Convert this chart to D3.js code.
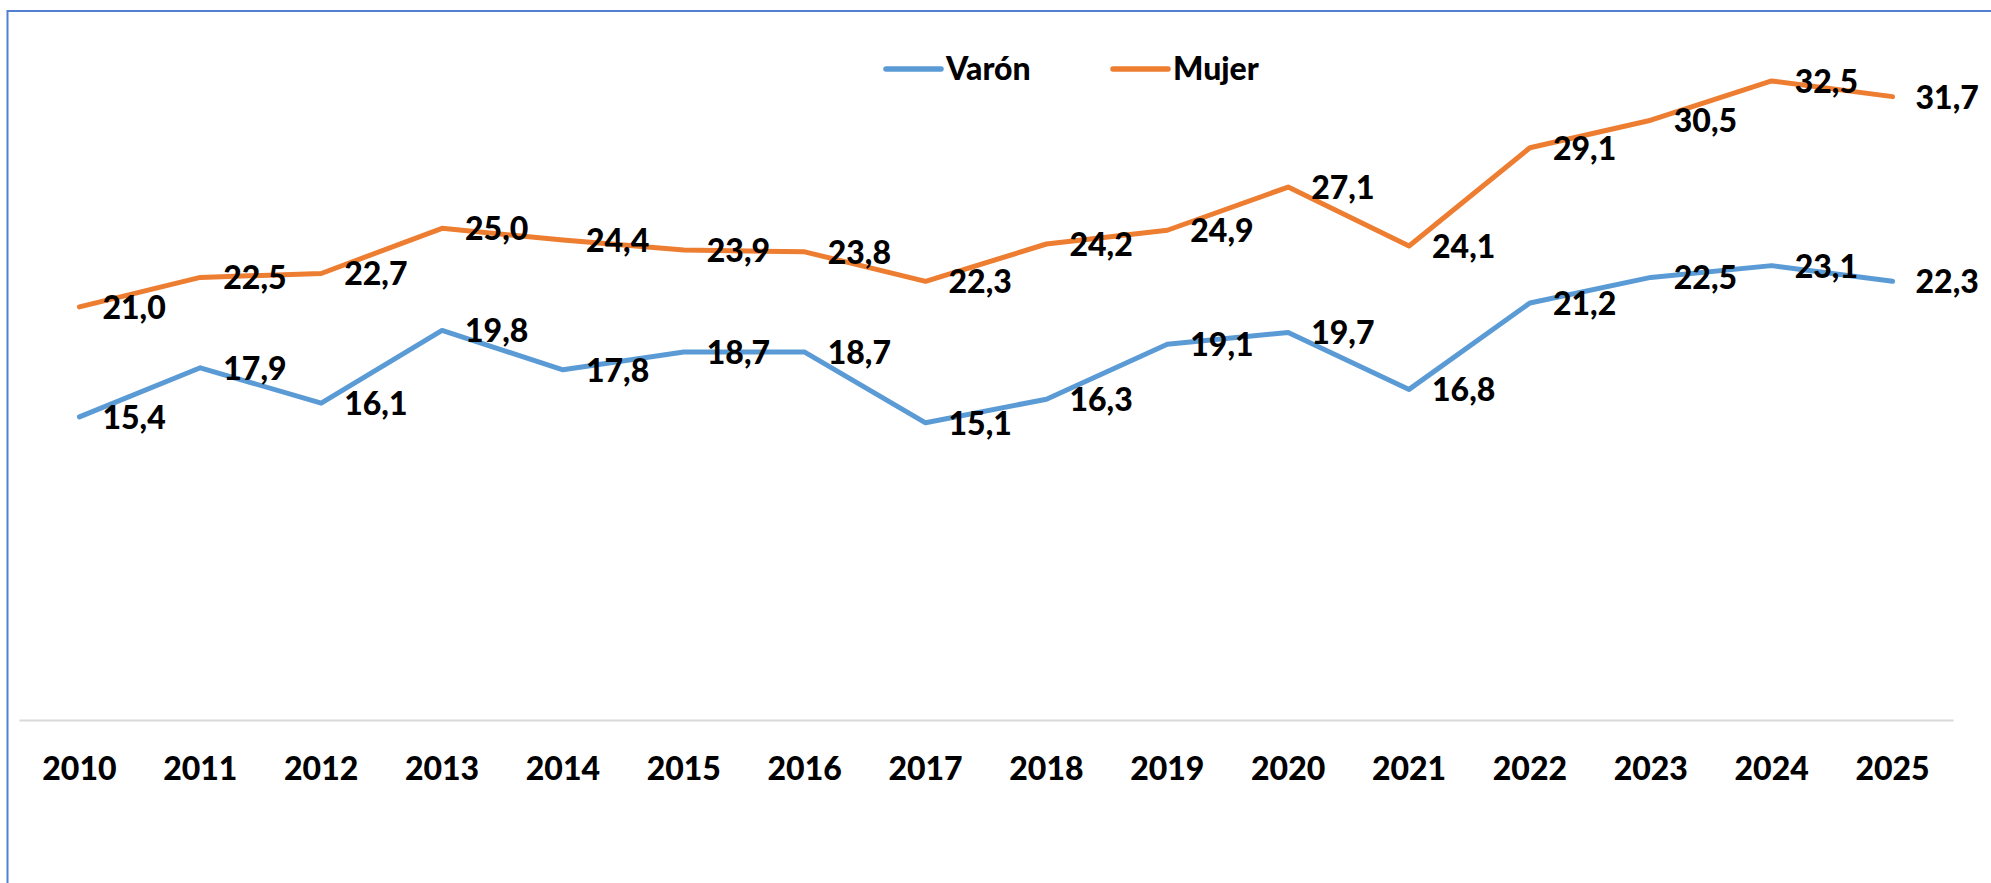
<!DOCTYPE html>
<html>
<head>
  <meta charset="utf-8">
  <title>Varón / Mujer 2010-2025</title>
  <script src="https://d3js.org/d3.v7.min.js"></script>
  <style>
    body {
      margin: 0;
      background-color: white;
    }
    * {
      font-family: 'Lato', 'Open Sans', sans-serif;
    }
    .label {
      font-size: 32px;
      font-weight: 900;
      fill: black;
    }
    .series {
      fill: none;
      stroke-width: 5px;
      stroke-linejoin: round;
      stroke-linecap: round;
    }
  </style>
</head>
<body>
<div id="chart"></div>

<script type="text/javascript">
var width = 1991;
var height = 883;

// data
var years = ["2010", "2011", "2012", "2013", "2014", "2015", "2016", "2017",
             "2018", "2019", "2020", "2021", "2022", "2023", "2024", "2025"];
var varon = [15.4, 17.9, 16.1, 19.8, 17.8, 18.7, 18.7, 15.1, 16.3, 19.1, 19.7, 16.8, 21.2, 22.5, 23.1, 22.3];
var mujer = [21.0, 22.5, 22.7, 25.0, 24.4, 23.9, 23.8, 22.3, 24.2, 24.9, 27.1, 24.1, 29.1, 30.5, 32.5, 31.7];
var seriesNames = ["Varón", "Mujer"];
var seriesColors = ["#5b9bd5", "#ed7d31"];

var svg = d3.select("#chart").append("svg").attr("width", width).attr("height", height);

// outer frame (runs off the right and bottom of the picture)
svg.append("rect")
  .attr("x", 7.5)
  .attr("y", 11)
  .attr("width", 2100)
  .attr("height", 1000)
  .style("fill", "none")
  .style("stroke", "#4f81d0")
  .style("stroke-width", 2);

// scales
var x = d3.scaleBand().domain(years).range([19, 1953]).padding(0);
var y = d3.scaleLinear().domain([0, 35]).range([719.5, 31.8]);

function cx(d) { return x(d) + x.bandwidth() / 2; }

// category axis
var xAxis = svg.append("g")
  .attr("transform", "translate(0,720)")
  .call(d3.axisBottom(x).tickSize(0).tickSizeOuter(0).tickPadding(37));

xAxis.select(".domain")
  .style("stroke", "#d9d9d9")
  .style("stroke-width", 2);

xAxis.selectAll("text")
  .attr("class", "label")
  .style("font-size", "32px")
  .style("font-weight", "900")
  .style("font-family", "Lato, sans-serif")
  .style("fill", "black");

var line = d3.line()
  .x(function(d) { return cx(d.year); })
  .y(function(d) { return y(d.value); });

var series = [varon, mujer].map(function(vals, i) {
  return {
    name: seriesNames[i],
    color: seriesColors[i],
    points: vals.map(function(v, j) { return { year: years[j], value: v }; })
  };
});

// the two lines
svg.selectAll("path.series")
  .data(series)
  .enter()
  .append("path")
  .attr("class", "series")
  .attr("d", function(d) { return line(d.points); })
  .style("stroke", function(d) { return d.color; });

// data labels, placed right of each point
series.forEach(function(s) {
  svg.selectAll(null)
    .data(s.points)
    .enter()
    .append("text")
    .attr("class", "label")
    .attr("x", function(d) { return cx(d.year) + 23; })
    .attr("y", function(d) { return y(d.value) + 12; })
    .text(function(d) { return d3.format(".1f")(d.value).replace(".", ","); });
});

// legend
var legendX = [886, 1113];
var legend = svg.selectAll("g.legend")
  .data(series)
  .enter()
  .append("g")
  .attr("class", "legend")
  .attr("transform", function(d, i) { return "translate(" + legendX[i] + ",69)"; });

legend.append("line")
  .attr("x1", 0).attr("x2", 55)
  .style("stroke", function(d) { return d.color; })
  .style("stroke-width", 5.5)
  .style("stroke-linecap", "round");

legend.append("text")
  .attr("class", "label")
  .attr("x", 60)
  .attr("y", 11)
  .text(function(d) { return d.name; });
</script>
</body>
</html>
